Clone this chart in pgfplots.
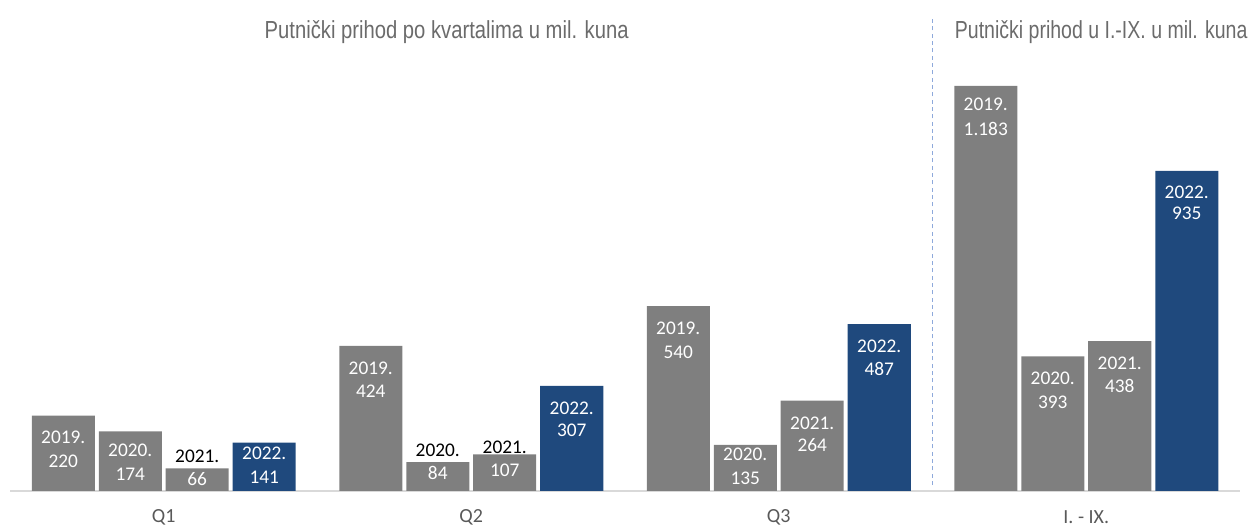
\documentclass[border=0pt]{standalone}
\usepackage{pgfplots}
\pgfplotsset{compat=1.18}
\usepackage{pgfplotstable}
\usepackage{graphicx}
\usepackage{fontspec}
\setmainfont{Carlito}
\newfontfamily\narrow[FakeStretch=0.82]{Liberation Sans}
\definecolor{barGray}{HTML}{7F7F7F}
\definecolor{barNavy}{HTML}{1F497D}
\definecolor{lineGray}{HTML}{D9D9D9}
\definecolor{txtGray}{HTML}{595959}
\definecolor{titleGray}{HTML}{6B6B6B}
\definecolor{dashBlue}{HTML}{8EA9DB}

\pgfplotstableread{
x y
0 220
1 424
2 540
3 1183
}\yA
\pgfplotstableread{
x y
0 174
1 84
2 135
3 393
}\yB
\pgfplotstableread{
x y
0 66
1 107
2 264
3 438
}\yC
\pgfplotstableread{
x y
0 141
1 307
2 487
3 935
}\yD

% label positions (x, y in data units)
\pgfplotstableread{
x y label
-0.3268 157.7 2019.
-0.1089 119.7 2020.
0.3268 111.0 2022.
0.6732 359.2 2019.
1.3268 242.4 2022.
1.6732 476.1 2019.
1.8911 108.1 2020.
2.1089 198.6 2021.
2.3268 423.5 2022.
2.6732 1130.3 2019.
2.8911 330.0 2020.
3.1089 373.8 2021.
3.3268 873.2 2022.
}\yearsWhite
\pgfplotstableread{
x y label
0.1089 102.2 2021.
0.8911 119.7 2020.
1.1089 128.5 2021.
}\yearsBlack
\pgfplotstableread{
x y label
-0.3268 87.6 220
-0.1089 49.6 174
0.1089 35.0 66
0.3268 40.9 141
0.6732 292.1 424
0.8911 52.6 84
1.1089 61.3 107
1.3268 178.2 307
1.6732 406.0 540
1.8911 38.0 135
2.1089 134.3 264
2.3268 356.3 487
2.6732 1057.2 1.183
2.8911 259.9 393
3.1089 306.7 438
3.3268 811.9 935
}\valuesW

\begin{document}
\begin{tikzpicture}
\begin{axis}[
  name=ax,
  scale only axis,
  width=922.5pt, height=368.25pt,
  xmin=-0.5, xmax=3.5, ymin=0, ymax=1434,
  axis y line=none,
  axis x line*=bottom,
  x axis line style={-, draw=lineGray, line width=1.2pt},
  xtick={0,1,2,3},
  xticklabels={Q1,Q2,Q3,I. - IX.},
  major tick length=0pt,
  xticklabel style={anchor=center, yshift=-19.5pt, font=\fontsize{15pt}{17pt}\selectfont, text=txtGray},
  bar width=0.2049,
  clip=false,
  label plot/.style={draw=none, mark=none, nodes near coords, point meta=explicit symbolic,
     every node near coord/.append style={anchor=center, inner sep=0pt, font=\fontsize{14.5pt}{16pt}\selectfont}},
]
\addplot[ybar, bar shift=-0.3268, fill=barGray, draw=none] table[x=x,y=y] {\yA};
\addplot[ybar, bar shift=-0.1089, fill=barGray, draw=none] table[x=x,y=y] {\yB};
\addplot[ybar, bar shift=0.1089, fill=barGray, draw=none] table[x=x,y=y] {\yC};
\addplot[ybar, bar shift=0.3268, fill=barNavy, draw=none] table[x=x,y=y] {\yD};

\addplot[label plot, every node near coord/.append style={text=white}] table[x=x,y=y,meta=label] {\yearsWhite};
\addplot[label plot, every node near coord/.append style={text=black}] table[x=x,y=y,meta=label] {\yearsBlack};
\addplot[label plot, every node near coord/.append style={text=white}] table[x=x,y=y,meta=label] {\valuesW};

\addplot[dashBlue, line width=1.1pt, dash pattern=on 3pt off 2.5pt] coordinates {(2.5,17.5) (2.5,1381)};

\node[anchor=center, text=titleGray, font=\narrow\fontsize{18.5pt}{20pt}\selectfont] at (axis cs:0.920,1341) {Putnički prihod po kvartalima u mil. kuna};
\node[anchor=west, inner sep=0pt, text=titleGray, font=\narrow\fontsize{18.5pt}{20pt}\selectfont] at (axis cs:2.572,1341) {\scalebox{0.965}[1]{Putnički prihod u I.-IX. u mil. kuna}};
\end{axis}
\pgfresetboundingbox
\path[use as bounding box] ([xshift=-7.5pt, yshift=-27pt]ax.south west) rectangle ([xshift=12pt]ax.north east);
\end{tikzpicture}
\end{document}
